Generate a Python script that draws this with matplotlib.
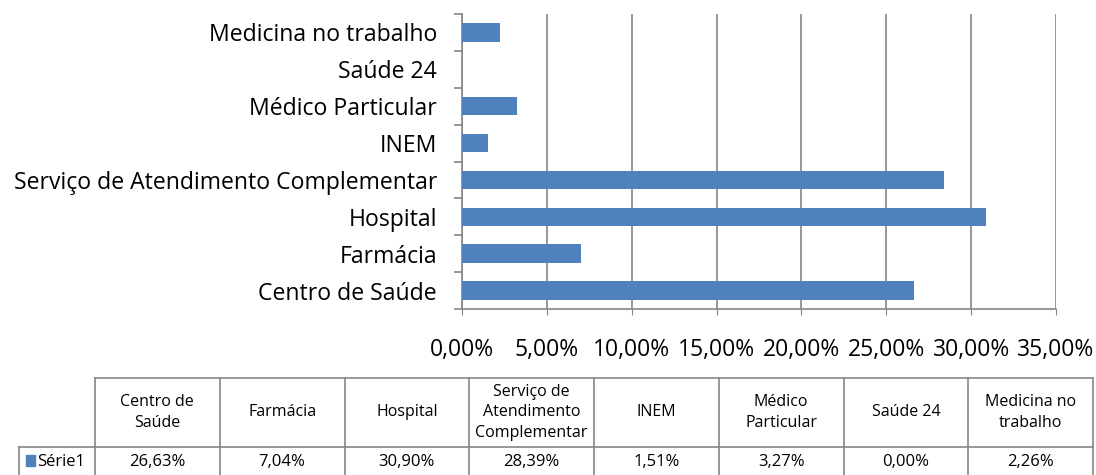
import matplotlib
matplotlib.use('Agg')
import matplotlib.pyplot as plt
import numpy as np

# dados
categorias = ['Centro de Saúde', 'Farmácia', 'Hospital',
              'Serviço de Atendimento Complementar', 'INEM',
              'Médico Particular', 'Saúde 24', 'Medicina no trabalho']
cabecalho = ['Centro de\nSaúde', 'Farmácia', 'Hospital',
             'Serviço de\nAtendimento\nComplementar', 'INEM',
             'Médico\nParticular', 'Saúde 24', 'Medicina no\ntrabalho']
valores = [26.63, 7.04, 30.90, 28.39, 1.51, 3.27, 0.00, 2.26]
serie = 'Série1'
xticks = [0, 5, 10, 15, 20, 25, 30, 35]

plt.rcParams['font.family'] = ['Open Sans', 'DejaVu Sans']
azul = '#4F81BD'
cinza = '#868686'

W, H = 1096, 475
fig = plt.figure(figsize=(W / 100, H / 100), dpi=100)

# grafico de barras
x0, x1, y0, y1 = 462, 1056, 14, 309
ax = fig.add_axes([x0 / W, 1 - y1 / H, (x1 - x0) / W, (y1 - y0) / H])
pos = np.arange(len(categorias))
ax.barh(pos, valores, height=0.5, color=azul, linewidth=0, zorder=3)
ax.set_xlim(0, 35)
ax.set_ylim(-0.5, len(categorias) - 0.5)
ax.set_xticks(xticks)
ax.set_xticklabels([('%.2f%%' % v).replace('.', ',') for v in xticks])
ax.xaxis.set_tick_params(labelsize=16.5, length=4, color=cinza, pad=17)
ax.set_yticks(pos)
ax.set_yticklabels(categorias, fontsize=16.6)
ax.tick_params(axis='y', length=0, pad=18)
ax.set_yticks(np.arange(-0.5, len(categorias)), minor=True)
ax.tick_params(axis='y', which='minor', length=6, color=cinza, width=1.2)
ax.grid(axis='x', color=cinza, linewidth=1.2, zorder=0)
for s in ['top', 'right']:
    ax.spines[s].set_visible(False)
for s in ['left', 'bottom']:
    ax.spines[s].set_color(cinza)
    ax.spines[s].set_linewidth(1.2)

# tabela de dados
tb = fig.add_axes([0, 0, 1, 1])
tb.set_xlim(0, W)
tb.set_ylim(H, 0)
tb.axis('off')
tx0, tx1 = 95, 1093
ty0, ty1, ty2 = 378, 447, 476
lx = 19
n = len(categorias)
cw = (tx1 - tx0) / n
lc = dict(color=cinza, linewidth=1.2)
tb.plot([tx0, tx1], [ty0, ty0], **lc)
tb.plot([lx, tx1], [ty1, ty1], **lc)
tb.plot([lx, lx], [ty1, ty2], **lc)
for i in range(n + 1):
    xx = tx0 + i * cw
    tb.plot([xx, xx], [ty0, ty2], **lc)
for i in range(n):
    xc = tx0 + (i + 0.5) * cw
    tb.text(xc, (ty0 + ty1) / 2, cabecalho[i], ha='center', va='center',
            fontsize=11.5, linespacing=1.35)
    tb.text(xc, (ty1 + ty2) / 2 + 1, ('%.2f%%' % valores[i]).replace('.', ','),
            ha='center', va='center', fontsize=12)
tb.add_patch(plt.Rectangle((26, 455), 9, 11, color=azul))
tb.text(37, (ty1 + ty2) / 2 + 1, serie, ha='left', va='center', fontsize=12)

fig.savefig('out.png', dpi=100, facecolor='white')
